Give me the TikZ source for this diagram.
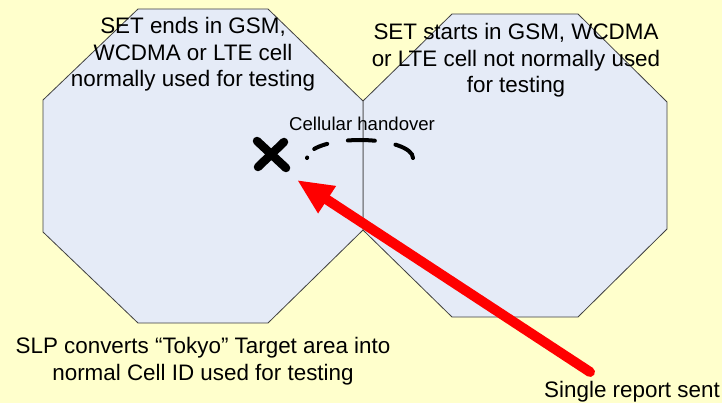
\documentclass[tikz,border=0pt]{standalone}
\usepackage{fontspec}
\setmainfont{Liberation Sans}
\usetikzlibrary{arrows.meta,calc}
\definecolor{bgyellow}{HTML}{FFFFCC}
\definecolor{cellfill}{HTML}{E5EBF7}
\definecolor{celledge}{HTML}{404040}
\begin{document}
\begin{tikzpicture}[x=1pt,y=-1pt,
  cell/.style={fill=cellfill,draw=celledge,line width=0.8pt,line join=miter},
  lbl/.style={inner sep=0pt,anchor=base,font=\fontsize{22.4}{26}\selectfont},
  smalllbl/.style={inner sep=0pt,anchor=base west,font=\fontsize{18.6}{22}\selectfont},
  xmark/.style={line width=8.5pt,line cap=round},
  handover/.style={line width=4pt,line cap=round,
    dash pattern=on 0.5pt off 11.5pt on 14pt off 21pt on 27pt off 21pt on 26pt},
  report/.style={red,line width=10pt,line cap=round,-{Triangle[length=36pt,width=30pt]}}]
\useasboundingbox (0,0) rectangle (722,403);
\fill[bgyellow] (0,0) rectangle (722,403);
% cells
\draw[cell] (452,14) -- (578,14) -- (667,102) -- (667,229) -- (578,317) -- (452,317) -- (363,230) -- (363,101) -- cycle;
\draw[cell] (138,9) -- (268,9) -- (363,101) -- (363,230) -- (268,323) -- (138,323) -- (43,232) -- (43,100) -- cycle;
% texts
\node[lbl] (l1) at (193,34) {SET ends in GSM,};
\node[lbl] (l2) at (193,61) {WCDMA or LTE cell};
\node[lbl] (l3) at (193,87) {normally used for testing};
\node[lbl] (r1) at (516,40) {SET starts in GSM, WCDMA};
\node[lbl] (r2) at (516,66.5) {or LTE cell not normally used};
\node[lbl] (r3) at (516,93) {for testing};
\node[smalllbl] (ho) at (289,130.5) {Cellular handover};
\node[lbl] (b1) at (203,353) {SLP converts “Tokyo” Target area into};
\node[lbl] (b2) at (203,380) {normal Cell ID used for testing};
\node[lbl,anchor=base east] (sr) at (720,397) {Single report sent};
% X mark
\coordinate (xc) at (271.5,154.5);
\draw[xmark] ($(xc)+(-14.5,-13.5)$) -- ($(xc)+(14.5,13.5)$);
\draw[xmark] ($(xc)+(12.5,-12.5)$) -- ($(xc)+(-13.5,12.5)$);
% handover path
\coordinate (hostart) at (307,158);
\draw[handover] (hostart) arc[start angle=180,end angle=360,x radius=53,y radius=18];
% report arrow
\coordinate (arrowtail) at (590,372);
\coordinate (arrowtip) at (297,180);
\draw[report] (arrowtail) -- (arrowtip);
\end{tikzpicture}
\end{document}
